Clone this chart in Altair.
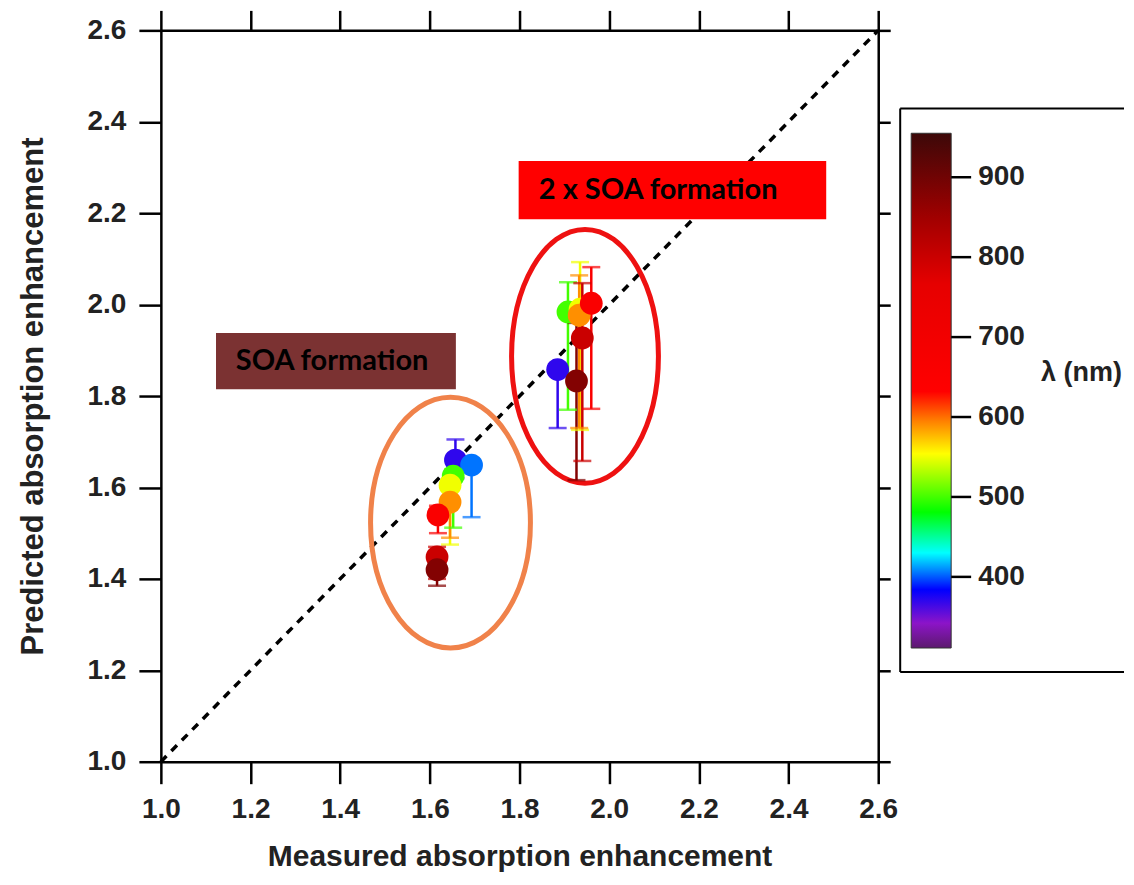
import altair as alt
import pandas as pd

# ---------------- data ----------------
axis_domain = [1.0, 2.6]
x_ticks = [1.0, 1.2, 1.4, 1.6, 1.8, 2.0, 2.2, 2.4, 2.6]
y_ticks = [1.0, 1.2, 1.4, 1.6, 1.8, 2.0, 2.2, 2.4, 2.6]
diag = [1.0, 2.6]

# "SOA formation" cluster
soa_wl = [370, 405, 500, 550, 590, 660, 800, 880]
soa_x = [1.657, 1.693, 1.652, 1.645, 1.645, 1.618, 1.616, 1.616]
soa_y = [1.660, 1.649, 1.625, 1.605, 1.568, 1.540, 1.448, 1.420]
soa_lo = [1.620, 1.535, 1.512, 1.475, 1.490, 1.500, 1.400, 1.385]
soa_hi = [1.705, 1.660, 1.640, 1.620, 1.580, 1.560, 1.470, 1.440]

# "2 x SOA formation" cluster
soa2_wl = [370, 500, 550, 590, 660, 800, 880]
soa2_x = [1.885, 1.908, 1.935, 1.933, 1.960, 1.940, 1.927]
soa2_y = [1.858, 1.984, 1.990, 1.977, 2.003, 1.927, 1.833]
soa2_lo = [1.730, 1.770, 1.726, 1.730, 1.772, 1.658, 1.616]
soa2_hi = [1.870, 2.049, 2.093, 2.064, 2.082, 2.047, 1.960]

# colour bar (wavelength, nm)
cb_stops = [311, 342, 384, 430, 481, 554, 595, 632, 766, 850, 955]
cb_colors = ['#5c1a6e', '#8c14c8', '#0000ff', '#00ffff', '#00ff00', '#ffff00',
             '#ff8000', '#ff0000', '#e60000', '#a00000', '#3c0808']
cb_ticks = [400, 500, 600, 700, 800, 900]
cb_title = "λ (nm)"

# annotations
label_text = ["SOA formation", "2 x SOA formation"]
label_x = [1.167, 1.843]
label_y = [1.876, 2.250]
box_x1 = [1.123, 1.798]
box_x2 = [1.658, 2.484]
box_y1 = [1.815, 2.187]
box_y2 = [1.938, 2.314]
ellipse_x = [1.646, 1.946]
ellipse_y = [1.523, 1.887]

# ---------------- tables ----------------
pts = pd.DataFrame({
    "wl": soa_wl + soa2_wl,
    "x": soa_x + soa2_x,
    "y": soa_y + soa2_y,
    "lo": soa_lo + soa2_lo,
    "hi": soa_hi + soa2_hi,
})
diag_df = pd.DataFrame({"x": diag, "y": diag})
lab_df = pd.DataFrame({"t": label_text, "x": label_x, "y": label_y,
                       "x1": box_x1, "x2": box_x2, "y1": box_y1, "y2": box_y2})
ell_df = pd.DataFrame({"x": ellipse_x, "y": ellipse_y})

FONT = "Liberation Sans"
W, H = 718, 732

xs = alt.Scale(domain=axis_domain, nice=False, zero=False)
ys = alt.Scale(domain=axis_domain, nice=False, zero=False)
cscale = alt.Scale(domain=cb_stops, range=cb_colors, interpolate="rgb")

ax_style = dict(domainColor="black", domainWidth=2.5, tickColor="black", tickWidth=2.5,
                labelFont=FONT, labelFontWeight="bold", labelFontSize=28, labelColor="#222",
                titleFont=FONT, titleFontWeight="bold", titleColor="#222",
                grid=False, labelFlush=False, labelOverlap=False)

Xn = alt.X("x:Q", scale=xs, axis=None)
Yn = alt.Y("y:Q", scale=ys, axis=None)

box_soa = alt.Chart(lab_df.iloc[[0]]).mark_rect(fill="#7b3232").encode(
    x=alt.X("x1:Q", scale=xs, axis=None), x2="x2:Q",
    y=alt.Y("y1:Q", scale=ys, axis=None), y2="y2:Q")
box_soa2 = alt.Chart(lab_df.iloc[[1]]).mark_rect(fill="#ff0000").encode(
    x=alt.X("x1:Q", scale=xs, axis=None), x2="x2:Q",
    y=alt.Y("y1:Q", scale=ys, axis=None), y2="y2:Q")
texts = alt.Chart(lab_df).mark_text(align="left", baseline="middle", font="Lato",
                                    fontWeight="bold", fontSize=29, color="black").encode(
    x=Xn, y=Yn, text="t:N")

diag_line = alt.Chart(diag_df).mark_line(color="black", strokeWidth=3.5,
                                         strokeDash=[8, 7]).encode(x=Xn, y=Yn)


def ellipse_path(a):
    k = 0.5523
    return (f"M {a:.4f},0 C {a:.4f},{k} {a*k:.4f},1 0,1 "
            f"C {-a*k:.4f},1 {-a:.4f},{k} {-a:.4f},0 "
            f"C {-a:.4f},{-k} {-a*k:.4f},-1 0,-1 "
            f"C {a*k:.4f},-1 {a:.4f},{-k} {a:.4f},0 Z")


ell_o = alt.Chart(ell_df.iloc[[0]]).mark_point(
    shape=ellipse_path(80 / 125.5), size=(2 * 125.5) ** 2, filled=False,
    stroke="#f0824a", strokeWidth=5, opacity=1).encode(x=Xn, y=Yn)
ell_r = alt.Chart(ell_df.iloc[[1]]).mark_point(
    shape=ellipse_path(73.5 / 127), size=(2 * 127) ** 2, filled=False,
    stroke="#ee1111", strokeWidth=5, opacity=1).encode(x=Xn, y=Yn)

C = alt.Color("wl:Q", scale=cscale, legend=None)
rules = alt.Chart(pts).mark_rule(strokeWidth=2.5).encode(
    x=Xn, y=alt.Y("lo:Q", scale=ys, axis=None), y2="hi:Q", color=C)
caps_lo = alt.Chart(pts).mark_tick(orient="horizontal", size=18, thickness=2.5).encode(
    x=Xn, y=alt.Y("lo:Q", scale=ys, axis=None), color=C)
caps_hi = alt.Chart(pts).mark_tick(orient="horizontal", size=18, thickness=2.5).encode(
    x=Xn, y=alt.Y("hi:Q", scale=ys, axis=None), color=C)
points = alt.Chart(pts).mark_circle(size=520, opacity=1).encode(x=Xn, y=Yn, color=C)

inner = alt.layer(diag_line, box_soa, box_soa2, texts, ell_o, ell_r,
                  rules, caps_lo, caps_hi, points)

frame_bl = alt.Chart(diag_df).mark_point(opacity=0).encode(
    x=alt.X("x:Q", scale=xs, axis=alt.Axis(
        orient="bottom", values=x_ticks, format=".1f", tickSize=22, labelPadding=12,
        titlePadding=18, titleFontSize=30, title="Measured absorption enhancement",
        **ax_style)),
    y=alt.Y("y:Q", scale=ys, axis=alt.Axis(
        orient="left", values=y_ticks, format=".1f", tickSize=22, labelPadding=13,
        titlePadding=38, titleFontSize=31, title="Predicted absorption enhancement",
        **ax_style)))

frame_tr = alt.Chart(diag_df).mark_point(opacity=0).encode(
    x=alt.X("x:Q", scale=xs, axis=alt.Axis(orient="top", values=x_ticks, tickSize=20,
                                           labels=False, title=None, **ax_style)),
    y=alt.Y("y:Q", scale=ys, axis=alt.Axis(orient="right", values=y_ticks, tickSize=12,
                                           labels=False, title=None, **ax_style)))

main = alt.layer(inner, frame_bl, frame_tr).resolve_scale(
    x="independent", y="independent").properties(width=W, height=H)

# ---------------- colour bar panel ----------------
CW = 222
cby = alt.Scale(domain=[168.75, 1083.75], nice=False, zero=False)
cbx = alt.Scale(domain=[0, CW], nice=False, zero=False)
lo_s, hi_s = cb_stops[0], cb_stops[-1]
grad = {"gradient": "linear", "x1": 0, "y1": 1, "x2": 0, "y2": 0,
        "stops": [{"offset": (s - lo_s) / (hi_s - lo_s), "color": c}
                  for s, c in zip(cb_stops, cb_colors)]}

# legend frame: left, top and bottom edges (right edge runs off the picture)
cb_edges_df = pd.DataFrame({"x1": [-2, -2, -2], "x2": [-2, CW, CW],
                            "y1": [281, 986, 281], "y2": [986, 986, 281]})
cb_bar_df = pd.DataFrame({"x1": [9], "x2": [49], "y1": [lo_s], "y2": [hi_s]})
cb_tick_df = pd.DataFrame({"v": cb_ticks, "x1": [49] * len(cb_ticks),
                           "x2": [69] * len(cb_ticks), "xl": [76] * len(cb_ticks),
                           "lab": [str(t) for t in cb_ticks]})
cb_title_df = pd.DataFrame({"t": [cb_title], "x": [139], "v": [655]})

cbX = lambda f: alt.X(f, scale=cbx, axis=None)
cbY = lambda f: alt.Y(f, scale=cby, axis=None)

cb_box = alt.Chart(cb_edges_df).mark_rule(color="black", strokeWidth=2).encode(
    x=cbX("x1:Q"), x2="x2:Q", y=cbY("y1:Q"), y2="y2:Q")
cb_bar = alt.Chart(cb_bar_df).mark_rect(fill=grad, stroke="#333", strokeWidth=1).encode(
    x=cbX("x1:Q"), x2="x2:Q", y=cbY("y1:Q"), y2="y2:Q")
cb_tk = alt.Chart(cb_tick_df).mark_rule(color="black", strokeWidth=2.5).encode(
    x=cbX("x1:Q"), x2="x2:Q", y=cbY("v:Q"))
cb_lab = alt.Chart(cb_tick_df).mark_text(
    align="left", baseline="middle", font=FONT, fontWeight="bold", fontSize=28,
    color="#222").encode(x=cbX("xl:Q"), y=cbY("v:Q"), text="lab:N")
cb_tt = alt.Chart(cb_title_df).mark_text(
    align="left", baseline="middle", font=FONT, fontWeight="bold", fontSize=27,
    color="#222").encode(x=cbX("x:Q"), y=cbY("v:Q"), text="t:N")

cb = alt.layer(cb_box, cb_bar, cb_tk, cb_lab, cb_tt).properties(width=CW, height=H)

chart = alt.hconcat(main, cb, spacing=0).properties(
    padding={"left": 8, "top": 0, "right": 0, "bottom": 0}
).configure_view(stroke="transparent")

chart.save("out.html", embed_options={"renderer": "svg", "actions": False})
